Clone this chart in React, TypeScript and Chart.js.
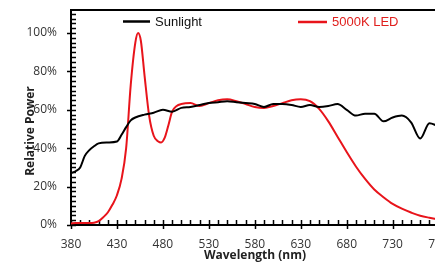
import React, { useEffect, useRef } from "react";
import { Chart, registerables } from "chart.js";

Chart.register(...registerables);

// ---- Data ----
const sunWavelengths = [380, 385, 390, 395, 400, 405, 410, 420, 430, 435, 440, 445, 450, 460, 470, 480, 490, 500, 510, 520, 530, 540, 550, 560, 570, 580, 590, 600, 610, 620, 630, 640, 650, 660, 670, 680, 690, 700, 710, 720, 730, 740, 750, 760, 770, 780, 790, 800];
const sunPower = [27, 28, 30, 36, 39, 41, 42.5, 43, 43.5, 47, 51, 54.5, 56, 57.5, 58.5, 60, 59, 61, 61.5, 62.5, 63.5, 64, 64.5, 64, 63.5, 63, 61.5, 63, 63, 62.5, 61.5, 62.5, 61.5, 62, 63, 60, 57, 58, 58, 54, 56, 57, 53.5, 45, 53, 51.5, 51, 50];

const ledWavelengths = [380, 385, 390, 395, 400, 405, 410, 415, 420, 425, 430, 435, 440, 445, 450, 453, 456, 460, 465, 470, 475, 478, 482, 486, 490, 495, 500, 510, 520, 530, 540, 550, 560, 570, 580, 590, 600, 610, 620, 630, 640, 650, 660, 670, 680, 690, 700, 710, 720, 730, 740, 750, 760, 770, 780, 790, 800];
const ledPower = [0.8, 1, 1, 1, 1, 1.2, 2, 4, 6.5, 10.5, 15.5, 24, 40, 73, 95, 100, 96, 78, 57, 46.5, 43.5, 43, 45.5, 52, 59, 62, 63, 63.5, 62, 63.5, 65, 65.5, 64.5, 63, 61.5, 61, 62, 63.5, 65, 65.5, 64.5, 60.5, 54, 46, 38, 30.5, 24, 18.5, 14.5, 11, 8.5, 6.5, 4.8, 3.8, 3, 2.5, 2];

const xTickValues = [380, 430, 480, 530, 580, 630, 680, 730, 780];
const yTickValues = [0, 20, 40, 60, 80, 100];
const seriesNames = ["Sunlight", "5000K LED"];
const xTitle = "Wavelength (nm)";
const yTitle = "Relative Power";

const SUN_COLOR = "#000000";
const LED_COLOR = "#e8141b";

const decorPlugin = {
  id: "decor",
  beforeDatasetsDraw(chart: any) {
    const { ctx, chartArea: ca, scales } = chart;
    const x = scales.x;
    const y = scales.y;
    ctx.save();
    ctx.strokeStyle = "#000";
    ctx.lineWidth = 2;
    ctx.beginPath();
    ctx.moveTo(ca.right + 10, ca.top);
    ctx.lineTo(ca.left, ca.top);
    ctx.lineTo(ca.left, ca.bottom);
    ctx.lineTo(ca.right + 10, ca.bottom);
    ctx.stroke();

    ctx.lineWidth = 1.5;
    ctx.beginPath();
    for (let v = 380; v <= 800; v += 10) {
      const px = Math.round(x.getPixelForValue(v)) + 0.5;
      const major = (v - 380) % 50 === 0;
      ctx.moveTo(px, ca.bottom - 5);
      ctx.lineTo(px, ca.bottom + (major ? 4 : 0));
    }
    for (let v = 0; v <= 110; v += 2.5) {
      const py = Math.round(y.getPixelForValue(v)) + 0.5;
      const major = v % 20 === 0;
      ctx.moveTo(ca.left + 5, py);
      ctx.lineTo(ca.left - (major ? 4 : 0), py);
    }
    ctx.stroke();
    ctx.restore();
  },
  afterDraw(chart: any) {
    const { ctx } = chart;
    ctx.save();
    ctx.fillStyle = "#222";
    ctx.font = "bold 12px 'Open Sans'";
    ctx.textAlign = "center";
    ctx.textBaseline = "middle";
    ctx.fillText(xTitle, 255, 256);
    ctx.translate(31, 131);
    ctx.rotate(-Math.PI / 2);
    ctx.fillText(yTitle, 0, 0);
    ctx.restore();

    ctx.save();
    ctx.lineWidth = 2.5;
    ctx.font = "13px 'Liberation Sans'";
    ctx.textBaseline = "middle";
    ctx.textAlign = "left";
    ctx.strokeStyle = SUN_COLOR;
    ctx.beginPath();
    ctx.moveTo(123, 21.5);
    ctx.lineTo(150, 21.5);
    ctx.stroke();
    ctx.fillStyle = "#111";
    ctx.fillText(seriesNames[0], 155, 22);
    ctx.strokeStyle = LED_COLOR;
    ctx.beginPath();
    ctx.moveTo(298, 22);
    ctx.lineTo(327, 22);
    ctx.stroke();
    ctx.fillStyle = "#e0201e";
    ctx.fillText(seriesNames[1], 332, 22);
    ctx.restore();
  },
};

export default function App() {
  const canvasRef = useRef<HTMLCanvasElement | null>(null);

  useEffect(() => {
    const canvas = canvasRef.current;
    if (!canvas) return;
    Chart.defaults.font.family = "'Open Sans'";
    const chart = new Chart(canvas, {
      type: "line",
      data: {
        datasets: [
          {
            label: seriesNames[0],
            data: sunWavelengths.map((w, i) => ({ x: w, y: sunPower[i] })),
            borderColor: SUN_COLOR,
            borderWidth: 2,
            pointRadius: 0,
            tension: 0.3,
            cubicInterpolationMode: "monotone",
          },
          {
            label: seriesNames[1],
            data: ledWavelengths.map((w, i) => ({ x: w, y: ledPower[i] })),
            borderColor: LED_COLOR,
            borderWidth: 2,
            pointRadius: 0,
            cubicInterpolationMode: "monotone",
          },
        ],
      },
      options: {
        animation: false,
        responsive: false,
        devicePixelRatio: 1,
        layout: { padding: { top: 10, left: 0, right: 3, bottom: 0 } },
        plugins: { legend: { display: false }, tooltip: { enabled: false } },
        scales: {
          x: {
            type: "linear",
            min: 380,
            max: 800,
            grid: { display: false, drawTicks: false },
            border: { display: false },
            afterBuildTicks: (s: any) => {
              s.ticks = xTickValues.map((v) => ({ value: v }));
            },
            afterFit: (s: any) => {
              s.height = 38;
              s.paddingLeft = 0;
              s.paddingRight = 0;
            },
            ticks: {
              autoSkip: false,
              maxRotation: 0,
              padding: 12,
              color: "#333",
              font: { size: 12, family: "'Open Sans'" },
              callback: (v: any) => String(v),
            },
          },
          y: {
            type: "linear",
            min: 0,
            max: 112,
            grid: { display: false, drawTicks: false },
            border: { display: false },
            afterBuildTicks: (s: any) => {
              s.ticks = yTickValues.map((v) => ({ value: v }));
            },
            afterFit: (s: any) => {
              s.width = 71;
              s.paddingTop = 0;
              s.paddingBottom = 0;
            },
            ticks: {
              padding: 14,
              color: "#333",
              font: { size: 12, family: "'Open Sans'" },
              callback: (v: any) => `${v}%`,
            },
          },
        },
      },
      plugins: [decorPlugin],
    });
    return () => chart.destroy();
  }, []);

  return (
    <div
      style={{
        position: "fixed",
        left: 0,
        top: 0,
        width: 435,
        height: 263,
        overflow: "hidden",
        background: "#fff",
      }}
    >
      <canvas ref={canvasRef} width={460} height={263} style={{ display: "block" }} />
    </div>
  );
}
